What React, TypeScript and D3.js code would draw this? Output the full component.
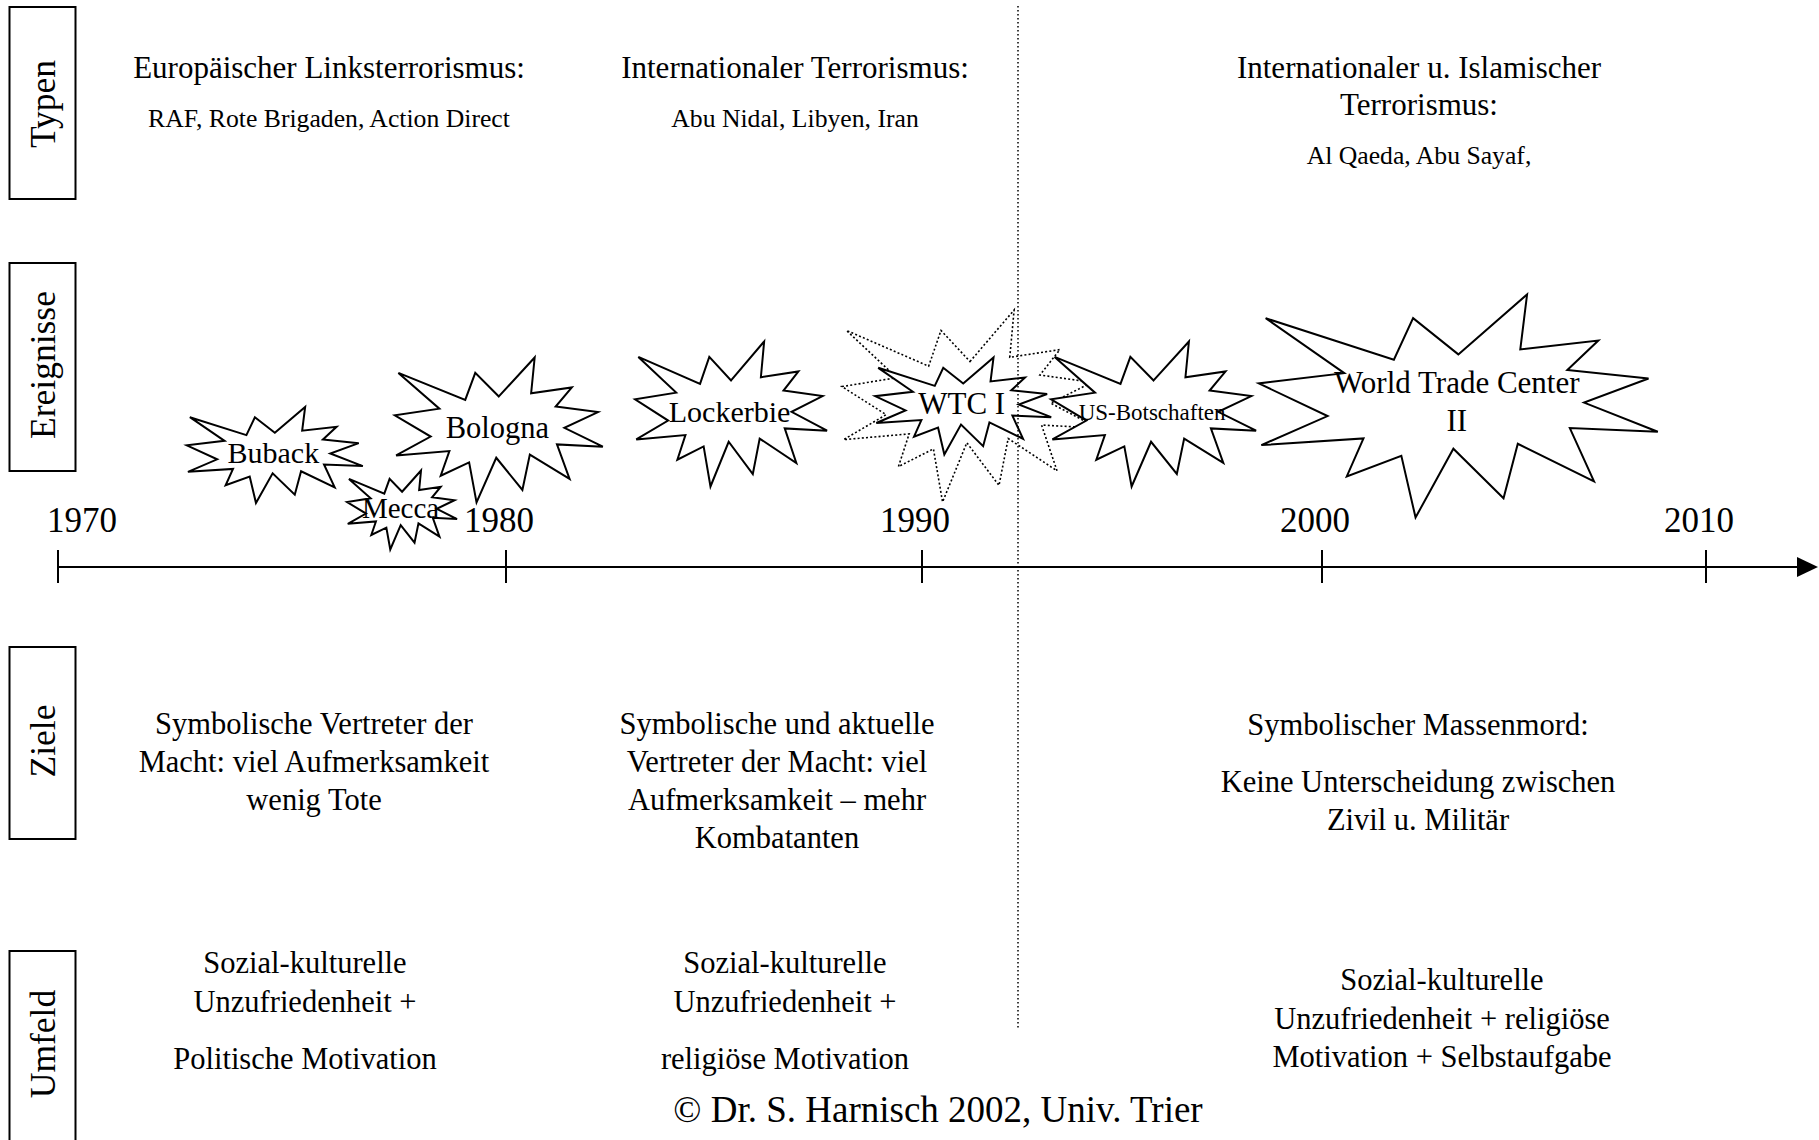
import React from 'react';
import * as d3 from 'd3';

// ---------- data ----------
const years = [1970, 1980, 1990, 2000, 2010];
const dividerYear = 1992.4;

const eventLabels: string[][] = [
  [],
  ['Buback'],
  ['Bologna'],
  ['Mecca'],
  ['Lockerbie'],
  ['WTC I'],
  ['US-Botschaften'],
  ['World Trade Center', 'II'],
];
const eventYears = [1991.2, 1974.84, 1979.84, 1977.68, 1985.41, 1991.03, 1995.79, 2003.55];
const eventDotted = [true, false, false, false, false, false, false, false];

const rowLabels = ['Typen', 'Ereignisse', 'Ziele', 'Umfeld'];

const typenHeads: string[][] = [
  ['Europäischer Linksterrorismus:'],
  ['Internationaler Terrorismus:'],
  ['Internationaler u. Islamischer', 'Terrorismus:'],
];
const typenGroups = ['RAF, Rote Brigaden, Action Direct', 'Abu Nidal, Libyen, Iran', 'Al Qaeda, Abu Sayaf,'];

const zieleTexts: string[][][] = [
  [['Symbolische Vertreter der', 'Macht: viel Aufmerksamkeit', 'wenig Tote']],
  [['Symbolische und aktuelle', 'Vertreter der Macht: viel', 'Aufmerksamkeit – mehr', 'Kombatanten']],
  [['Symbolischer Massenmord:'], ['Keine Unterscheidung zwischen', 'Zivil u. Militär']],
];
const umfeldTexts: string[][][] = [
  [['Sozial-kulturelle', 'Unzufriedenheit +'], ['Politische Motivation']],
  [['Sozial-kulturelle', 'Unzufriedenheit +'], ['religiöse Motivation']],
  [['Sozial-kulturelle', 'Unzufriedenheit + religiöse', 'Motivation + Selbstaufgabe']],
];
const copyright = '© Dr. S. Harnisch 2002, Univ. Trier';

// ---------- layout ----------
const W = 1819;
const H = 1140;
const FONT = "'Liberation Serif', 'Times New Roman', serif";
const axisY = 567;

// burst boxes (width, height, vertical centre, font size)
const burstLayout = [
  { w: 256, h: 192, cy: 406, fs: 30 },
  { w: 176, h: 96, cy: 455, fs: 30 },
  { w: 208, h: 145, cy: 430, fs: 30.5 },
  { w: 110, h: 79, cy: 510, fs: 29 },
  { w: 192, h: 145, cy: 414, fs: 30 },
  { w: 176, h: 97, cy: 406, fs: 31 },
  { w: 205, h: 145, cy: 414, fs: 23 },
  { w: 399, h: 223, cy: 406, fs: 31 },
];

const rowBoxes = [
  { y0: 7, y1: 199, cy: 104 },
  { y0: 263, y1: 471, cy: 365 },
  { y0: 647, y1: 839, cy: 741 },
  { y0: 951, y1: 1150, cy: 1044 },
];

const typenCols = [329, 795, 1419];
const zieleCols = [314, 777, 1418];
const zieleStart = [734, 734, 735];
const umfeldCols = [305, 785, 1442];
const umfeldStart = [973, 973, 990];

// Office "Explosion 1" (irregularSeal1) shape outline in its 21600 unit space
const SEAL: [number, number][] = [
  [10800, 5800], [14522, 0], [14155, 5325], [18380, 4457], [16702, 7315],
  [21097, 8137], [17607, 10475], [21600, 13290], [16837, 12942], [18145, 18095],
  [14020, 14457], [13247, 19737], [10532, 14935], [8485, 21600], [7715, 15627],
  [4762, 17617], [5667, 13937], [135, 14587], [3722, 11775], [0, 8615],
  [4627, 7617], [370, 2295], [7312, 6320], [8352, 2295],
];

const x = d3.scaleLinear().domain(years).range([58, 506, 922, 1322, 1706]);

function sealPath(cx: number, cy: number, w: number, h: number): string {
  const sx = d3.scaleLinear().domain([0, 21600]).range([cx - w / 2, cx + w / 2]);
  const sy = d3.scaleLinear().domain([0, 21600]).range([cy - h / 2, cy + h / 2]);
  const line = d3.line<[number, number]>().x((d) => sx(d[0])).y((d) => sy(d[1]));
  return (line(SEAL) || '') + 'Z';
}

function Paragraphs({ cx, start, paras, fs, lh, gap }: { cx: number; start: number; paras: string[][]; fs: number; lh: number; gap: number }) {
  const out: React.ReactNode[] = [];
  let y = start;
  paras.forEach((p, pi) => {
    if (pi > 0) y += gap;
    p.forEach((line, li) => {
      out.push(
        <text key={`${pi}-${li}`} x={cx} y={y} textAnchor="middle" fontSize={fs}>
          {line}
        </text>
      );
      y += lh;
    });
  });
  return <g>{out}</g>;
}

export default function App() {
  const axisStart = x(years[0]);
  const axisEnd = 1818;
  return (
    <svg
      width={W}
      height={H}
      viewBox={`0 0 ${W} ${H}`}
      style={{ position: 'absolute', left: 0, top: 0, background: '#fff' }}
      fontFamily={FONT}
      fill="#000"
    >
      <rect x={0} y={0} width={W} height={H} fill="#fff" />

      {/* row label boxes */}
      {rowLabels.map((lab, i) => (
        <g key={lab}>
          <rect x={9.5} y={rowBoxes[i].y0} width={66} height={rowBoxes[i].y1 - rowBoxes[i].y0} fill="#fff" stroke="#000" strokeWidth={2} />
          <text transform={`translate(55,${rowBoxes[i].cy}) rotate(-90)`} textAnchor="middle" fontSize={35.5}>
            {lab}
          </text>
        </g>
      ))}

      {/* Typen row */}
      {typenHeads.map((lines, i) => (
        <g key={`th${i}`}>
          {lines.map((l, li) => (
            <text key={li} x={typenCols[i]} y={78 + li * 37} textAnchor="middle" fontSize={31}>
              {l}
            </text>
          ))}
          <text x={typenCols[i]} y={78 + (lines.length - 1) * 37 + 49} textAnchor="middle" fontSize={25.7}>
            {typenGroups[i]}
          </text>
        </g>
      ))}

      {/* bursts */}
      {eventYears.map((yr, i) => {
        const L = burstLayout[i];
        const cx = x(yr);
        const labels = eventLabels[i];
        const lh = L.fs * 1.23;
        return (
          <g key={`ev${i}`}>
            <path
              d={sealPath(cx, L.cy, L.w, L.h)}
              fill="#fff"
              stroke="#000"
              strokeWidth={eventDotted[i] ? 1.6 : 2}
              strokeDasharray={eventDotted[i] ? '2,2.2' : undefined}
              strokeLinejoin="miter"
            />
            {labels.map((t, li) => (
              <text
                key={li}
                x={cx - 1.5}
                y={L.cy + 0.26 * L.fs - ((labels.length - 1) * lh) / 2 + li * lh - (labels.length > 1 ? 2 : 0)}
                textAnchor="middle"
                fontSize={L.fs}
              >
                {t}
              </text>
            ))}
          </g>
        );
      })}

      {/* axis */}
      <line x1={axisStart} x2={axisEnd - 18} y1={axisY} y2={axisY} stroke="#000" strokeWidth={2} />
      <path d={`M${axisEnd},${axisY} L${axisEnd - 21},${axisY - 10} L${axisEnd - 21},${axisY + 10} Z`} fill="#000" />
      {years.map((yr) => (
        <g key={yr}>
          <line x1={x(yr)} x2={x(yr)} y1={axisY - 17} y2={axisY + 16} stroke="#000" strokeWidth={2} />
          <text x={Math.max(x(yr) - 7, 82)} y={532} textAnchor="middle" fontSize={35}>
            {yr}
          </text>
        </g>
      ))}

      {/* Ziele row */}
      {zieleTexts.map((paras, i) => (
        <Paragraphs key={`z${i}`} cx={zieleCols[i]} start={zieleStart[i]} paras={paras} fs={30.5} lh={38} gap={19} />
      ))}

      {/* Umfeld row */}
      {umfeldTexts.map((paras, i) => (
        <Paragraphs key={`u${i}`} cx={umfeldCols[i]} start={umfeldStart[i]} paras={paras} fs={30.5} lh={38.5} gap={19} />
      ))}

      <text x={938} y={1122} textAnchor="middle" fontSize={37}>
        {copyright}
      </text>

      {/* dotted period divider */}
      <line
        x1={x(dividerYear)}
        x2={x(dividerYear)}
        y1={6}
        y2={1030}
        stroke="#000"
        strokeWidth={1.5}
        strokeDasharray="1.5,2.5"
      />
    </svg>
  );
}
